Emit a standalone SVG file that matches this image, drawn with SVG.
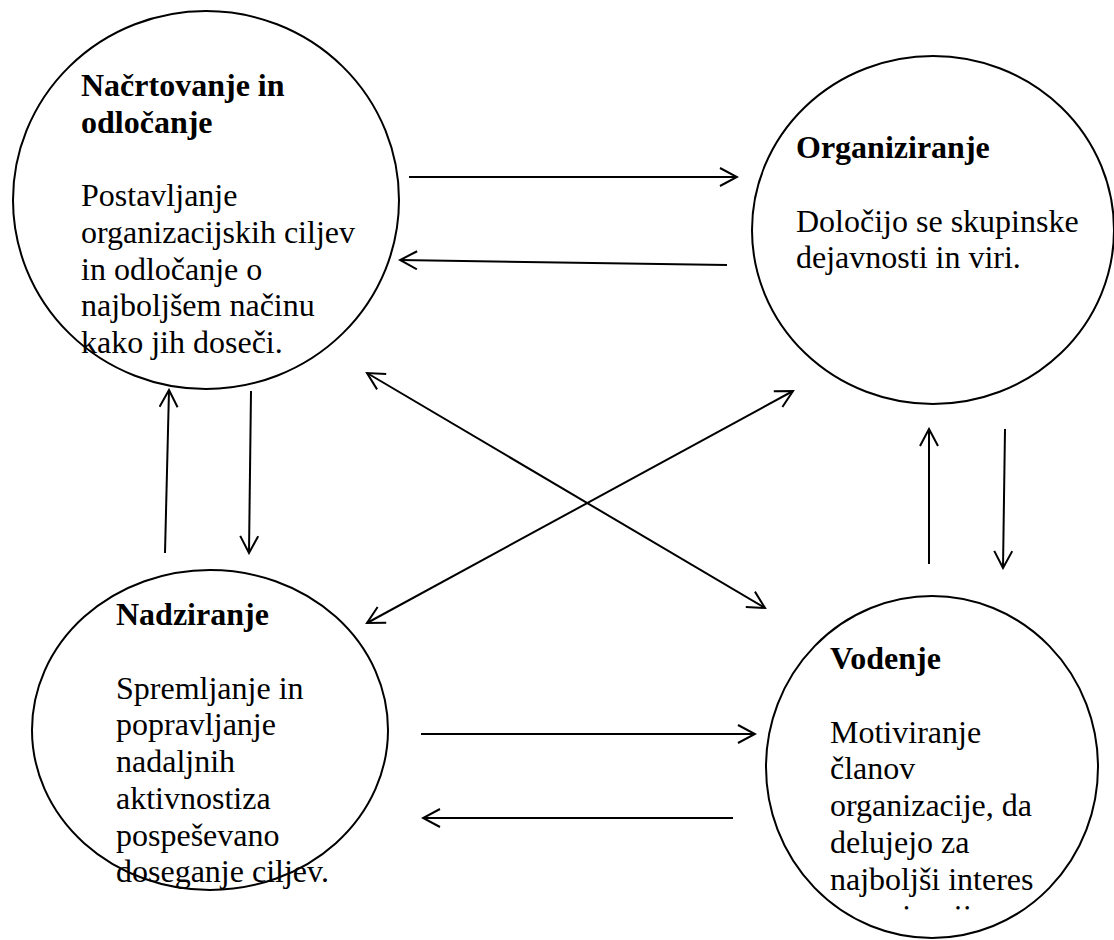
<svg xmlns="http://www.w3.org/2000/svg" width="1114" height="940" viewBox="0 0 1114 940">
<style>
.node{fill:#fff;stroke:#000;stroke-width:2}
.t{font-family:"Liberation Serif","Times New Roman",serif;font-size:32px;fill:#000}
.b{font-weight:bold}
.c{fill:none;stroke:#000;stroke-width:2}
</style>
<defs>
<marker id="ah" viewBox="0 0 20 20" refX="18" refY="10" markerWidth="20" markerHeight="20" markerUnits="userSpaceOnUse" orient="auto-start-reverse">
<path d="M1,1 L18,10 L1,19" fill="none" stroke="#000" stroke-width="2"/>
</marker>
<clipPath id="clip4"><rect x="760" y="590" width="354" height="320"/></clipPath>
</defs>
<rect width="1114" height="940" fill="#fff"/>
<g id="n1">
<ellipse class="node" cx="206" cy="200" rx="193" ry="189"/>
<text class="t b" x="81" y="96">Načrtovanje in</text>
<text class="t b" x="81" y="133">odločanje</text>
<text class="t" x="81" y="206">Postavljanje</text>
<text class="t" x="81" y="243">organizacijskih ciljev</text>
<text class="t" x="81" y="280">in odločanje o</text>
<text class="t" x="81" y="316">najboljšem načinu</text>
<text class="t" x="81" y="353">kako jih doseči.</text>
</g>
<g id="n2">
<ellipse class="node" cx="933" cy="230" rx="181" ry="174"/>
<text class="t b" x="796" y="158">Organiziranje</text>
<text class="t" x="796" y="232">Določijo se skupinske</text>
<text class="t" x="796" y="268">dejavnosti in viri.</text>
</g>
<g id="n3">
<ellipse class="node" cx="210" cy="730" rx="178" ry="160"/>
<text class="t b" x="116" y="625">Nadziranje</text>
<text class="t" x="116" y="699">Spremljanje in</text>
<text class="t" x="116" y="735">popravljanje</text>
<text class="t" x="116" y="772">nadaljnih</text>
<text class="t" x="116" y="809">aktivnostiza</text>
<text class="t" x="116" y="846">pospeševano</text>
<text class="t" x="116" y="882">doseganje ciljev.</text>
</g>
<g id="n4">
<ellipse class="node" cx="932" cy="767" rx="166" ry="171"/>
<text class="t b" x="830" y="669">Vodenje</text>
<text class="t" x="830" y="743">Motiviranje</text>
<text class="t" x="830" y="779">članov</text>
<text class="t" x="830" y="816">organizacije, da</text>
<text class="t" x="830" y="853">delujejo za</text>
<text class="t" x="830" y="890">najboljši interes</text>
<g clip-path="url(#clip4)"><text class="t" x="830" y="927">organizacije.</text></g>
</g>
<g id="connectors">
<line class="c" x1="409" y1="177" x2="737" y2="177" marker-end="url(#ah)"/>
<line class="c" x1="727" y1="265" x2="400" y2="260" marker-end="url(#ah)"/>
<line class="c" x1="165" y1="553" x2="169" y2="390" marker-end="url(#ah)"/>
<line class="c" x1="251" y1="391" x2="249" y2="553" marker-end="url(#ah)"/>
<line class="c" x1="929" y1="564" x2="929" y2="429" marker-end="url(#ah)"/>
<line class="c" x1="1005" y1="429" x2="1003" y2="568" marker-end="url(#ah)"/>
<line class="c" x1="367" y1="373" x2="765" y2="608" marker-start="url(#ah)" marker-end="url(#ah)"/>
<line class="c" x1="367" y1="623" x2="793" y2="391" marker-start="url(#ah)" marker-end="url(#ah)"/>
<line class="c" x1="421" y1="734" x2="755" y2="734" marker-end="url(#ah)"/>
<line class="c" x1="733" y1="818" x2="423" y2="818" marker-end="url(#ah)"/>
</g>
</svg>
